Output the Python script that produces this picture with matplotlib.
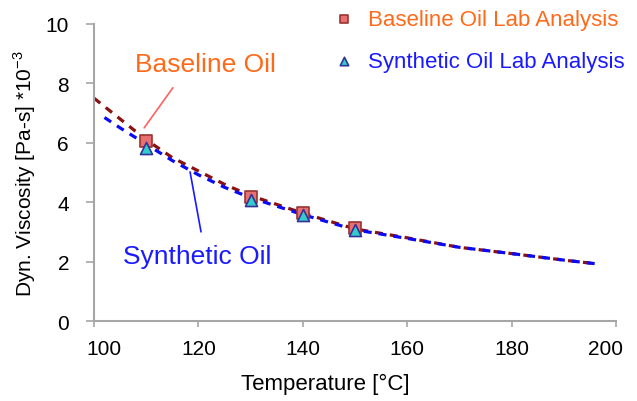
import matplotlib
matplotlib.use("Agg")
import matplotlib.pyplot as plt
from matplotlib.transforms import ScaledTranslation

# fitted curves
base_temp = [100, 105, 110, 115, 120, 125, 130, 140, 150, 160, 170, 180, 190, 196]
base_visc = [7.5, 6.8, 6.1, 5.5, 5.05, 4.6, 4.22, 3.63, 3.1, 2.8, 2.48, 2.27, 2.05, 1.93]
syn_temp = [102, 105, 110, 115, 120, 125, 130, 140, 150, 160, 170, 180, 190, 196]
syn_visc = [6.85, 6.5, 5.95, 5.4, 4.92, 4.5, 4.15, 3.58, 3.07, 2.78, 2.48, 2.27, 2.05, 1.93]

# lab analysis points
lab_temp = [110, 130, 140, 150]
base_lab = [6.05, 4.18, 3.64, 3.12]
syn_lab = [5.83, 4.08, 3.56, 3.05]

x_ticks = [100, 120, 140, 160, 180, 200]
y_ticks = [0, 2, 4, 6, 8, 10]

ORANGE = "#FF6A1A"
BLUE = "#1A1AFF"


def main() -> None:
    plt.rcParams["font.family"] = ["Liberation Sans", "DejaVu Sans"]
    fig = plt.figure(figsize=(6.37, 4.02), dpi=100)
    ax = fig.add_axes([0.1476, 0.199, 0.8194, 0.739])

    ax.plot(base_temp, base_visc, color="#8B1010", lw=2.3, dashes=(2.5, 2.2), zorder=2)
    ax.plot(syn_temp, syn_visc, color="#0A0AF5", lw=2.3, dashes=(2.5, 2.2), zorder=3)

    ax.scatter(lab_temp, base_lab, marker="s", s=75, facecolor="#E87070",
               edgecolor="#993333", linewidth=1.2, zorder=4,
               label="Baseline Oil Lab Analysis")
    ax.scatter(lab_temp, syn_lab, marker="^", s=75, facecolor="#33CCCC",
               edgecolor="#333399", linewidth=1.2, zorder=5,
               label="Synthetic Oil Lab Analysis")

    # callouts
    ax.annotate("", xy=(109.6, 6.5), xytext=(115.1, 7.85),
                arrowprops=dict(arrowstyle="-", color="#FF6060", lw=1.2,
                                shrinkA=0, shrinkB=0))
    ax.text(121.3, 8.65, "Baseline Oil", color=ORANGE, fontsize=19,
            ha="center", va="center")
    ax.annotate("", xy=(118.4, 5.02), xytext=(120.5, 3.0),
                arrowprops=dict(arrowstyle="-", color=BLUE, lw=1.2,
                                shrinkA=0, shrinkB=0))
    ax.text(119.7, 2.2, "Synthetic Oil", color=BLUE, fontsize=19,
            ha="center", va="center")

    ax.set_xlim(100, 200)
    ax.set_ylim(0, 10)
    ax.set_xticks(x_ticks)
    ax.set_yticks(y_ticks)

    for side in ("top", "right"):
        ax.spines[side].set_visible(False)
    for side in ("left", "bottom"):
        ax.spines[side].set_color("#A6A6A6")
        ax.spines[side].set_linewidth(1.5)
    ax.tick_params(axis="y", length=6, width=1.2, color="#A6A6A6",
                   labelsize=15, pad=12)
    ax.tick_params(axis="x", length=4, width=1.2, color="#A6A6A6",
                   labelsize=15, pad=9)

    # end labels sit a bit inward, like the original
    labels = ax.get_xticklabels()
    labels[0].set_transform(labels[0].get_transform()
                            + ScaledTranslation(0.10, 0, fig.dpi_scale_trans))
    labels[-1].set_transform(labels[-1].get_transform()
                             + ScaledTranslation(-0.10, 0, fig.dpi_scale_trans))

    ax.set_xlabel("Temperature [°C]", fontsize=16)
    ax.xaxis.set_label_coords(0.444, -0.175)
    ax.set_ylabel("Dyn. Viscosity [Pa-s] *10$^{\\mathregular{-3}}$", fontsize=15)
    ax.yaxis.set_label_coords(-0.108, 0.5)

    leg = ax.legend(loc="upper left", bbox_to_anchor=(0.508, 0.997),
                    bbox_transform=fig.transFigure, frameon=False,
                    fontsize=16, handlelength=1.0, handletextpad=0.6,
                    labelspacing=0.95, markerscale=0.7, borderaxespad=0)
    for txt, col in zip(leg.get_texts(), [ORANGE, BLUE]):
        txt.set_color(col)

    fig.savefig("out.png", dpi=100)


if __name__ == "__main__":
    main()
